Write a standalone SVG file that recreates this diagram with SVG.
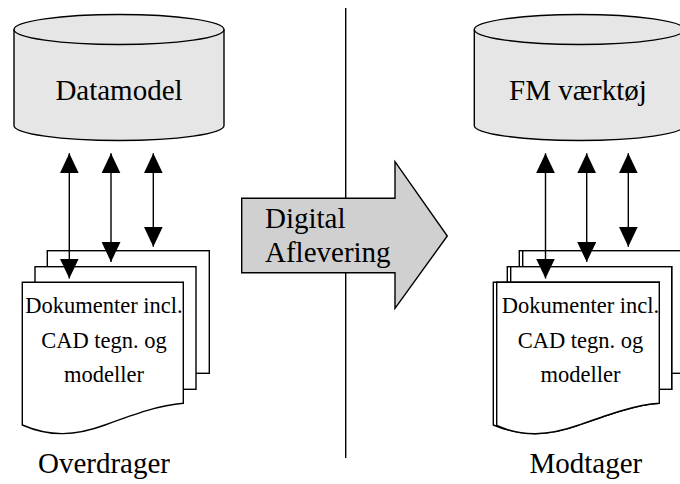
<svg xmlns="http://www.w3.org/2000/svg" width="680" height="484" viewBox="0 0 680 484">
<defs>
<style>
.ln{fill:none;stroke:#000;stroke-width:1.4}
.cyl{fill:#e6e6e6;stroke:#000;stroke-width:1.4}
.pg{fill:#fff;stroke:#000;stroke-width:1.4}
.big{font-family:"Liberation Serif","Times New Roman",serif;font-size:29px;fill:#000}
.doc{font-family:"Liberation Serif","Times New Roman",serif;font-size:22.5px;fill:#000;text-anchor:middle}
.mid{text-anchor:middle}
</style>
<marker id="ah" viewBox="0 0 20 19" refX="20" refY="9.5" markerWidth="20" markerHeight="19" markerUnits="userSpaceOnUse" orient="auto-start-reverse">
<path d="M0,0 L20,9.5 L0,19 Z" fill="#000"/>
</marker>
</defs>
<rect width="680" height="484" fill="#fff"/>

<g id="divider">
<line x1="345.7" y1="8" x2="345.7" y2="458" class="ln"/>
</g>

<g id="datamodel">
<path class="cyl" d="M14,29.5 L14,125.5 A105,15 0 0 0 224,125.5 L224,29.5 A105,15 0 0 0 14,29.5 Z"/>
<path class="ln" d="M14,29.5 A105,15 0 0 0 224,29.5"/>
<text class="big mid" x="119" y="100">Datamodel</text>
</g>

<g id="fm-vaerktoej">
<path class="cyl" d="M474.3,29.5 L474.3,125.5 A105,15 0 0 0 684.3,125.5 L684.3,29.5 A105,15 0 0 0 474.3,29.5 Z"/>
<path class="ln" d="M474.3,29.5 A105,15 0 0 0 684.3,29.5"/>
<text class="big mid" x="578" y="100">FM værktøj</text>
</g>

<g id="docs-left">
<rect class="pg" x="47.3" y="250.7" width="162" height="122.6"/>
<rect class="pg" x="35" y="266.7" width="161" height="122.6"/>
<path class="pg" d="M22.3,282.3 L183.3,282.3 L183.3,403.3 C160,405 135,414 105,425 C75,436 50,437 22.3,425 Z"/>
<text class="doc" x="104" y="313.3">Dokumenter incl.</text>
<text class="doc" x="104" y="348.3">CAD tegn. og</text>
<text class="doc" x="104" y="381.7">modeller</text>
</g>

<g id="docs-right">
<rect class="pg" x="519.3" y="250.7" width="175" height="122.6"/>
<rect class="pg" x="522.7" y="250.7" width="172" height="122.6"/>
<rect class="pg" x="507.3" y="266.7" width="164.4" height="122.6"/>
<rect class="pg" x="510.7" y="266.7" width="161" height="122.6"/>
<path class="pg" d="M493.3,282.3 L659.3,282.3 L659.3,403.3 C635,405 610,414 579,425 C548,436 522,437 493.3,425 Z"/>
<path class="pg" d="M496.7,282.3 L659.3,282.3 L659.3,403.3 C635,405 610,414 579,425 C548,436 522,437 496.7,425.5 Z"/>
<text class="doc" x="580.5" y="313.3">Dokumenter incl.</text>
<text class="doc" x="580.5" y="348.3">CAD tegn. og</text>
<text class="doc" x="580.5" y="381.7">modeller</text>
</g>

<g id="aflevering">
<path d="M241.7,198.3 L395,198.3 L395,161.7 L447.3,236 L395,308.3 L395,272.7 L241.7,272.7 Z" fill="#d0d0d0" stroke="#000" stroke-width="1.4"/>
<text class="big" x="265" y="228.3">Digital</text>
<text class="big" x="265" y="261.7">Aflevering</text>
</g>

<g id="connectors" class="ln">
<line x1="69.3" y1="153.3" x2="69.3" y2="278.5" marker-start="url(#ah)" marker-end="url(#ah)"/>
<line x1="111" y1="153.3" x2="111" y2="262" marker-start="url(#ah)" marker-end="url(#ah)"/>
<line x1="153.3" y1="153.3" x2="153.3" y2="246.7" marker-start="url(#ah)" marker-end="url(#ah)"/>
<line x1="545.5" y1="153.3" x2="545.5" y2="278.5" marker-start="url(#ah)" marker-end="url(#ah)"/>
<line x1="586.7" y1="153.3" x2="586.7" y2="262" marker-start="url(#ah)" marker-end="url(#ah)"/>
<line x1="628.3" y1="153.3" x2="628.3" y2="246.7" marker-start="url(#ah)" marker-end="url(#ah)"/>
</g>

<g id="labels">
<text class="big mid" x="104" y="472.7">Overdrager</text>
<text class="big mid" x="585.8" y="472.7">Modtager</text>
</g>
</svg>
